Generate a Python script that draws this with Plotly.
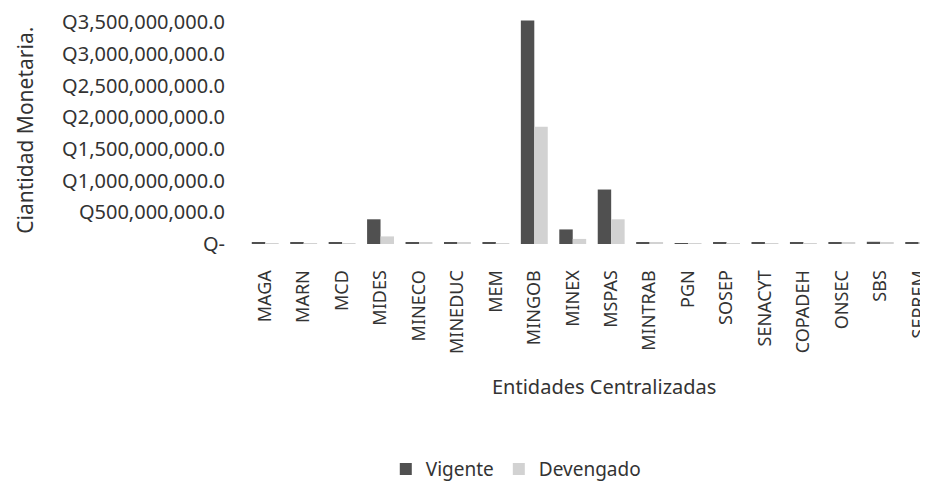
import plotly.graph_objects as go

categories = ["MAGA", "MARN", "MCD", "MIDES", "MINECO", "MINEDUC", "MEM", "MINGOB",
              "MINEX", "MSPAS", "MINTRAB", "PGN", "SOSEP", "SENACYT", "COPADEH",
              "ONSEC", "SBS", "SEPREM"]
vigente = [30e6, 20e6, 30e6, 390e6, 30e6, 25e6, 20e6, 3530e6,
           230e6, 860e6, 30e6, 15e6, 20e6, 20e6, 20e6, 25e6, 35e6, 30e6]
devengado = [15e6, 15e6, 15e6, 120e6, 20e6, 20e6, 15e6, 1850e6,
             80e6, 390e6, 20e6, 10e6, 15e6, 15e6, 15e6, 20e6, 25e6, 20e6]
tick_vals = [0, 500e6, 1000e6, 1500e6, 2000e6, 2500e6, 3000e6, 3500e6]
tick_text = ["Q-", "Q500,000,000.0", "Q1,000,000,000.0", "Q1,500,000,000.0",
             "Q2,000,000,000.0", "Q2,500,000,000.0", "Q3,000,000,000.0",
             "Q3,500,000,000.0"]

FONT = "Noto Sans"
TXT = "#333333"

fig = go.Figure()
fig.add_trace(go.Bar(x=categories, y=vigente, name="Vigente",
                     marker=dict(color="#505050", line=dict(width=0))))
fig.add_trace(go.Bar(x=categories, y=devengado, name="Devengado",
                     marker=dict(color="#d2d2d2", line=dict(width=0))))

fig.update_layout(
    width=928, height=481,
    margin=dict(l=238, r=0, t=6, b=244),
    paper_bgcolor="white", plot_bgcolor="white",
    barmode="group", bargap=0.3, bargroupgap=0,
    font=dict(family=FONT, color=TXT),
    showlegend=True,
    legend=dict(orientation="h", x=0.391, xanchor="center", y=-0.987, yanchor="middle",
                font=dict(size=19, color=TXT), itemwidth=30),
    xaxis=dict(range=[-0.5, 17.45], tickangle=-90, showgrid=False, showline=False,
               zeroline=False, ticks="outside", ticklen=18, tickcolor="rgba(0,0,0,0)",
               ticklabeloverflow="allow",
               tickfont=dict(size=18, color=TXT)),
    yaxis=dict(range=[0, 3.6e9], tickvals=tick_vals, ticktext=tick_text,
               showgrid=False, showline=False, zeroline=False,
               ticks="outside", ticklen=16, tickcolor="rgba(0,0,0,0)",
               ticklabeloverflow="allow",
               tickfont=dict(size=20, color=TXT)),
    annotations=[
        dict(text="Entidades Centralizadas", xref="paper", yref="paper",
             x=0.519, y=-0.623, xanchor="center", yanchor="middle",
             showarrow=False, font=dict(size=20, color=TXT)),
        dict(text="Ciantidad Monetaria.", xref="paper", yref="paper",
             x=-0.320, y=0.498, xanchor="center", yanchor="middle", textangle=-90,
             showarrow=False, font=dict(size=21, color=TXT)),
    ],
)

fig.write_html("out.html")
